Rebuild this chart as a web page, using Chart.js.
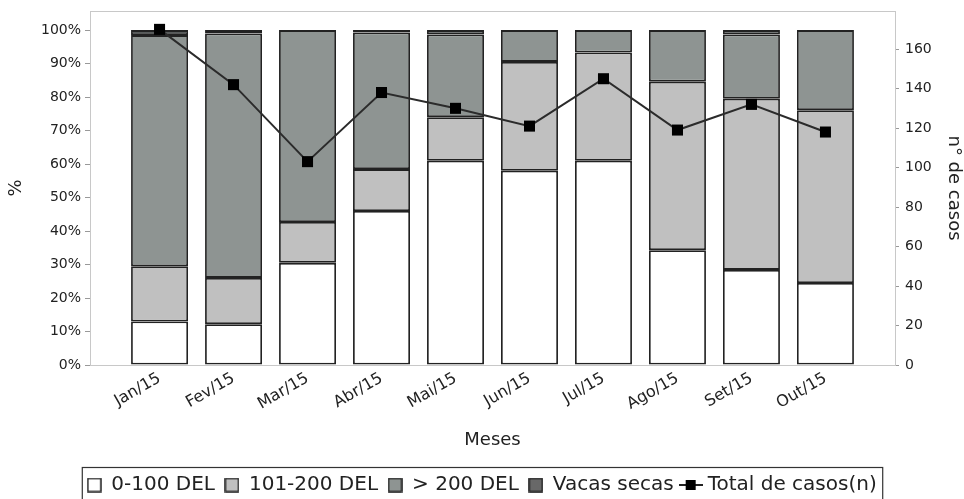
<!DOCTYPE html>
<html>
<head>
<meta charset="utf-8">
<script src="https://cdn.jsdelivr.net/npm/chart.js@4.4.1/dist/chart.umd.min.js"></script>
<style>
  html, body { margin: 0; padding: 0; background: #fff; }
  #wrap { width: 964px; height: 499px; position: relative; }
</style>
</head>
<body>
<div id="wrap"><canvas id="chart"></canvas></div>
<script>
// Data
const months = ['Jan/15', 'Fev/15', 'Mar/15', 'Abr/15', 'Mai/15', 'Jun/15', 'Jul/15', 'Ago/15', 'Set/15', 'Out/15'];
const del0a100 = [13, 12.2, 30.5, 46, 61, 58, 61, 34.3, 28.4, 24.5];
const del101a200 = [16.5, 13.8, 12.2, 12.5, 13, 32.5, 32.3, 50.3, 51.1, 51.6];
const delMais200 = [69, 73, 57.3, 40.8, 24.7, 9.5, 6.7, 15.4, 19.2, 23.9];
const vacasSecas = [1.5, 1, 0, 0.7, 1.3, 0, 0, 0, 1.3, 0];
const totalCasos = [170, 142, 103, 138, 130, 121, 145, 119, 132, 118];
const pctTicks = [0, 10, 20, 30, 40, 50, 60, 70, 80, 90, 100];

const toPoints = arr => arr.map((v, i) => ({ x: i, y: v }));

// Legend swatches
function squareSwatch(color) {
  const c = document.createElement('canvas');
  c.width = 15; c.height = 15;
  const g = c.getContext('2d');
  g.fillStyle = color;
  g.fillRect(0.5, 0.5, 14, 14);
  g.strokeStyle = '#222';
  g.lineWidth = 1.5;
  g.strokeRect(1, 1, 13, 13);
  return c;
}
function lineSwatch() {
  const c = document.createElement('canvas');
  c.width = 24; c.height = 16;
  const g = c.getContext('2d');
  g.strokeStyle = '#222';
  g.lineWidth = 2;
  g.beginPath(); g.moveTo(0, 8); g.lineTo(24, 8); g.stroke();
  g.fillStyle = '#000';
  g.fillRect(7, 3, 10, 10);
  return c;
}

const frameAndLegendBox = {
  id: 'frameAndLegendBox',
  beforeDatasetsDraw(chart) {
    const { ctx, chartArea: a } = chart;
    ctx.save();
    ctx.strokeStyle = '#c8c8c8';
    ctx.lineWidth = 1;
    ctx.strokeRect(a.left + 0.5, a.top + 0.5, a.right - a.left, a.bottom - a.top);
    ctx.restore();
  },
  afterDraw(chart) {
    const hb = chart.legend.legendHitBoxes;
    if (!hb || !hb.length) return;
    const last = hb[hb.length - 1];
    const { ctx } = chart;
    ctx.save();
    ctx.strokeStyle = '#333';
    ctx.lineWidth = 1.2;
    const left = hb[0].left - 5;
    const right = last.left + last.width + 6;
    const top = hb[0].top - 7.5;
    ctx.strokeRect(left, top, right - left, chart.height - top + 3);
    ctx.restore();
  }
};

Chart.defaults.font.family = "'DejaVu Sans', sans-serif";
Chart.defaults.color = '#333';

const barStyle = { borderColor: '#222', borderWidth: 1.8, barPercentage: 0.77, categoryPercentage: 1, order: 1, borderSkipped: false };

new Chart(document.getElementById('chart'), {
  data: {
    datasets: [
      { type: 'bar', label: '0-100 DEL', data: toPoints(del0a100), backgroundColor: '#ffffff', swatch: squareSwatch('#ffffff'), ...barStyle },
      { type: 'bar', label: '101-200 DEL', data: toPoints(del101a200), backgroundColor: '#c0c0c0', swatch: squareSwatch('#c0c0c0'), ...barStyle },
      { type: 'bar', label: '> 200 DEL', data: toPoints(delMais200), backgroundColor: '#8e9492', swatch: squareSwatch('#8e9492'), ...barStyle },
      { type: 'bar', label: 'Vacas secas', data: toPoints(vacasSecas), backgroundColor: '#575b5b', swatch: squareSwatch('#686868'), ...barStyle },
      {
        type: 'line', label: 'Total de casos(n)', data: toPoints(totalCasos), yAxisID: 'y2',
        borderColor: '#2b2b2b', borderWidth: 2, pointStyle: 'rect', pointRadius: 7.8, pointHoverRadius: 7.8,
        pointBackgroundColor: '#000', pointBorderColor: '#000', pointBorderWidth: 0,
        order: 0, swatch: lineSwatch()
      }
    ]
  },
  options: {
    responsive: true,
    maintainAspectRatio: false,
    animation: false,
    layout: { padding: { top: 11, bottom: -6, left: 0, right: 0 } },
    plugins: {
      tooltip: { enabled: false },
      legend: {
        position: 'bottom',
        labels: {
          color: '#222',
          font: { size: 20 },
          usePointStyle: true,
          pointStyleWidth: 14,
          padding: 10,
          sort: (a, b) => a.datasetIndex - b.datasetIndex,
          generateLabels(chart) {
            const items = Chart.defaults.plugins.legend.labels.generateLabels(chart);
            items.forEach(it => { it.pointStyle = chart.data.datasets[it.datasetIndex].swatch; });
            return items;
          }
        }
      }
    },
    scales: {
      x: {
        type: 'linear',
        offset: false,
        stacked: true,
        min: -0.94,
        max: 9.94,
        afterBuildTicks(scale) { scale.ticks = months.map((m, i) => ({ value: i })); },
        afterFit(scale) { scale.height = 100; },
        ticks: {
          callback: v => months[v],
          minRotation: 30, maxRotation: 30,
          font: { size: 16 },
          color: '#222',
          padding: 4
        },
        grid: { display: false, drawTicks: false },
        border: { display: true, color: '#999' },
        title: { display: true, text: 'Meses', font: { size: 18 }, color: '#222', padding: { top: 4, bottom: 14 } }
      },
      y: {
        stacked: true,
        min: 0,
        max: 105.7,
        afterBuildTicks(scale) { scale.ticks = pctTicks.map(v => ({ value: v })); },
        afterFit(scale) { scale.width = 90; scale.paddingTop = 0; },
        ticks: { callback: v => v + '%', font: { size: 14 }, color: '#222', padding: 4 },
        grid: { drawOnChartArea: false, drawTicks: true, tickLength: 5, color: '#999' },
        border: { display: true, color: '#999' },
        title: { display: true, text: '%', font: { size: 18 }, color: '#222', padding: { top: 6, bottom: 0 } }
      },
      y2: {
        position: 'right',
        min: 0,
        max: 179.3,
        ticks: { stepSize: 20, includeBounds: false, font: { size: 14 }, color: '#222', padding: 6 },
        afterFit(scale) { scale.width = 69; scale.paddingTop = 0; },
        grid: { drawOnChartArea: false, drawTicks: true, tickLength: 4, color: '#999' },
        border: { display: true, color: '#999' },
        title: { display: true, text: 'n° de casos', font: { size: 18 }, color: '#222', padding: { top: 0, bottom: 4 } }
      }
    }
  },
  plugins: [frameAndLegendBox]
});
</script>
</body>
</html>
